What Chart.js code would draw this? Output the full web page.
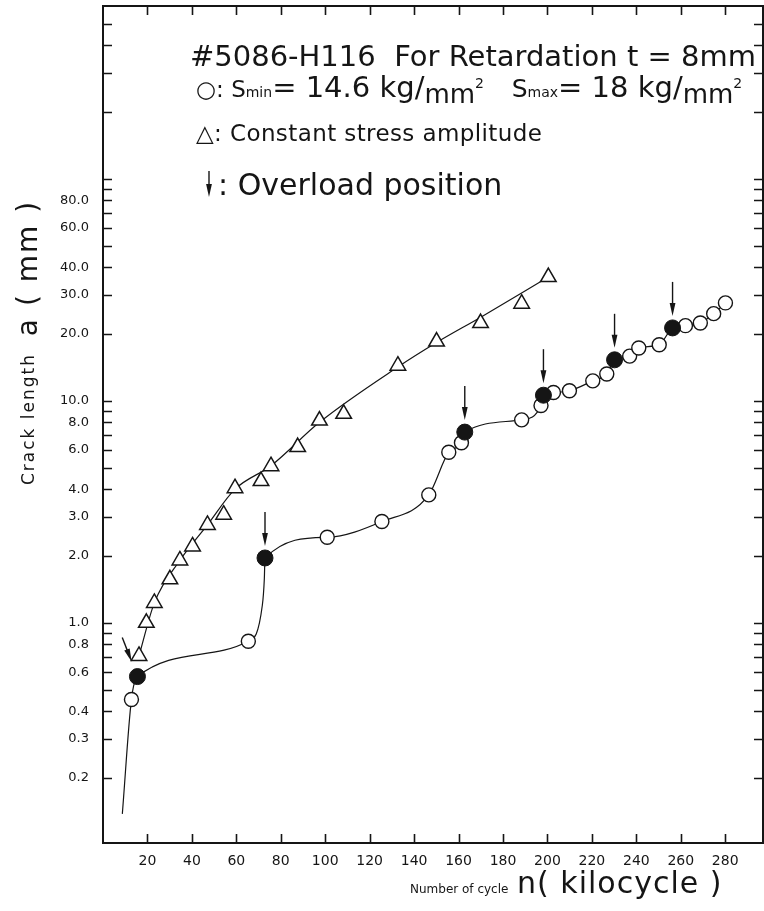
<!DOCTYPE html>
<html>
<head>
<meta charset="UTF-8">
<title>Crack growth retardation 5086-H116</title>
<script src="https://cdn.jsdelivr.net/npm/chart.js"></script>
<style>
  body { margin: 0; background: #fff; overflow: hidden; }
  #wrap { position: relative; width: 764px; height: 911px; }
  #chart { display: block; }
  .txt { position: absolute; font-family: "DejaVu Sans", sans-serif; color: #151515; white-space: nowrap; line-height: 1; }
  .rot { transform: translate(-50%, -50%) rotate(-90deg); }
  .dn { position: relative; top: 6px; }
  .up { position: relative; top: -9px; font-size: 14px; }
  .sub { font-size: 14px; }
</style>
</head>
<body>
<div id="wrap">
  <canvas id="chart"></canvas>

  <!-- legend block -->
  <div class="txt" style="left:190px; top:42px; font-size:29px;">#5086-H116&nbsp; For Retardation t = 8mm</div>
  <div class="txt" style="left:196px; top:73px; font-size:29px;"><span style="font-size:23px">○: S</span><span class="sub">min</span>= 14.6 kg/<span class="dn" style="font-size:26px">mm</span><span class="up">2</span>&nbsp;&nbsp; <span style="font-size:25px">S</span><span class="sub">max</span>= 18 kg/<span class="dn" style="font-size:26px">mm</span><span class="up">2</span></div>
  <div class="txt" style="left:196px; top:122px; font-size:23px; letter-spacing:0.4px;">△: Constant stress amplitude</div>
  <div class="txt" style="left:218px; top:170px; font-size:30px;">: Overload position</div>

  <!-- axis titles -->
  <div class="txt rot" style="left:28px; top:419px; font-size:17px; letter-spacing:2px;">Crack length</div>
  <div class="txt rot" style="left:28px; top:268px; font-size:28px; letter-spacing:2px;">a ( mm )</div>
  <div class="txt" style="left:410px; top:883px; font-size:12px;">Number of cycle</div>
  <div class="txt" style="left:517px; top:868px; font-size:30px; letter-spacing:1px;">n( kilocycle )</div>
</div>

<script>
    // tick positions / labels
    var xTickValues = [20, 40, 60, 80, 100, 120, 140, 160, 180, 200, 220, 240, 260, 280];
    var yTickMarks = [0.2, 0.3, 0.4, 0.5, 0.6, 0.7, 0.8, 0.9, 1, 2, 3, 4, 5, 6, 7, 8, 9,
                      10, 20, 30, 40, 50, 60, 70, 80, 90, 100, 200, 300, 400, 500];
    var yTickLabels = [0.2, 0.3, 0.4, 0.6, 0.8, 1, 2, 3, 4, 6, 8, 10, 20, 30, 40, 60, 80];

    // constant stress amplitude (triangles)
    var constCycles = [16.2, 19.5, 23.1, 30.1, 34.6, 40.3, 47.0, 54.3, 59.4, 71.1, 75.6, 87.6, 97.4, 108.3, 132.7, 150.1, 169.9, 188.4, 200.4];
    var constLength = [0.71, 1.0, 1.23, 1.57, 1.91, 2.21, 2.76, 3.07, 4.04, 4.35, 5.08, 6.19, 8.15, 8.74, 14.4, 18.5, 22.4, 27.4, 36.1];
    // the faired curve drawn through the triangles
    var constFitCycles = [16.2, 23.1, 34.6, 47.0, 59.4, 75.6, 97.4, 132.7, 150.1, 170.0, 200.4];
    var constFitLength = [0.71, 1.23, 1.91, 2.76, 4.0, 5.1, 8.0, 14.2, 18.3, 23.8, 36.1];

    // retardation test, open circles
    var retCycles = [12.8, 65.4, 100.9, 125.5, 146.6, 155.6, 161.3, 188.4, 197.1, 202.7, 209.9, 220.4, 226.7, 237.0, 241.1, 250.3, 262.1, 268.8, 274.8, 280.1];
    var retLength = [0.452, 0.827, 2.43, 2.86, 3.77, 5.87, 6.47, 8.21, 9.53, 10.9, 11.1, 12.3, 13.2, 15.9, 17.3, 17.9, 21.8, 22.4, 24.7, 27.6];

    // overload positions, filled circles
    var overloadCycles = [15.5, 72.9, 162.8, 198.2, 230.2, 256.3];
    var overloadLength = [0.573, 1.96, 7.23, 10.6, 15.3, 21.3];

    // extra points of the hand-drawn curve that carry no marker
    var curveOnlyCycles = [8.7, 71.7, 72.6];
    var curveOnlyLength = [0.138, 1.20, 1.58];

    function pts(xs, ys) {
        return xs.map(function (x, i) { return { x: x, y: ys[i] }; });
    }

    var retCurve = pts(curveOnlyCycles, curveOnlyLength)
        .concat(pts(retCycles, retLength))
        .concat(pts(overloadCycles, overloadLength))
        .sort(function (a, b) { return a.x - b.x; });

    var INK = '#151515';

    function drawArrow(ctx, x1, y1, x2, y2) {
        var ang = Math.atan2(y2 - y1, x2 - x1);
        var headLen = 13, headW = 2.9;
        ctx.beginPath();
        ctx.moveTo(x1, y1);
        ctx.lineTo(x2 - Math.cos(ang) * headLen * 0.6, y2 - Math.sin(ang) * headLen * 0.6);
        ctx.stroke();
        ctx.save();
        ctx.translate(x2, y2);
        ctx.rotate(ang);
        ctx.beginPath();
        ctx.moveTo(0, 0);
        ctx.lineTo(-headLen, -headW);
        ctx.lineTo(-headLen, headW);
        ctx.closePath();
        ctx.fill();
        ctx.restore();
    }

    function noPad(s) {
        s.paddingTop = 0; s.paddingBottom = 0; s.paddingLeft = 0; s.paddingRight = 0;
    }

    // frame with inward ticks on all four sides + overload arrows
    var framePlugin = {
        id: 'frame',
        afterDatasetsDraw: function (chart) {
            var ctx = chart.ctx;
            var meta = chart.getDatasetMeta(0); // overload points
            var tilt = [0.37, 0, 0, 0, 0, 0];
            ctx.save();
            ctx.strokeStyle = INK;
            ctx.fillStyle = INK;
            ctx.lineWidth = 1.4;
            meta.data.forEach(function (el, i) {
                var t = tilt[i] || 0;
                var tip = t ? 16 : 12, top = t ? 42 : 46;
                drawArrow(ctx,
                    el.x - Math.sin(t) * top, el.y - Math.cos(t) * top,
                    el.x - Math.sin(t) * tip, el.y - Math.cos(t) * tip);
            });
            // legend arrow
            drawArrow(ctx, 209, 171, 209, 197);
            ctx.restore();
        },
        afterDraw: function (chart) {
            var ctx = chart.ctx, a = chart.chartArea;
            var xs = chart.scales.x, ys = chart.scales.y;
            var len = 9;
            ctx.save();
            ctx.strokeStyle = INK;
            ctx.lineWidth = 1.6;
            ctx.beginPath();
            xTickValues.forEach(function (v) {
                var px = Math.round(xs.getPixelForValue(v)) + 0.5;
                ctx.moveTo(px, a.bottom); ctx.lineTo(px, a.bottom - len);
                ctx.moveTo(px, a.top); ctx.lineTo(px, a.top + len);
            });
            yTickMarks.forEach(function (v) {
                var py = Math.round(ys.getPixelForValue(v)) + 0.5;
                ctx.moveTo(a.left, py); ctx.lineTo(a.left + len, py);
                ctx.moveTo(a.right, py); ctx.lineTo(a.right - len, py);
            });
            ctx.stroke();
            ctx.lineWidth = 2;
            ctx.strokeRect(a.left, a.top, a.right - a.left, a.bottom - a.top);
            ctx.restore();
        }
    };

    var ctx = document.getElementById('chart').getContext('2d');
    var chart = new Chart(ctx, {
        type: 'scatter',
        data: {
            datasets: [
                {
                    label: 'Overload position',
                    data: pts(overloadCycles, overloadLength),
                    pointRadius: 8,
                    pointBackgroundColor: INK,
                    pointBorderColor: INK,
                    pointBorderWidth: 1,
                    showLine: false
                },
                {
                    label: 'Smin = 14.6, Smax = 18 kg/mm2',
                    data: pts(retCycles, retLength),
                    pointRadius: 7,
                    pointBackgroundColor: '#fff',
                    pointBorderColor: INK,
                    pointBorderWidth: 1.4,
                    showLine: false
                },
                {
                    label: 'Constant stress amplitude',
                    data: pts(constCycles, constLength),
                    pointStyle: 'triangle',
                    pointRadius: 9,
                    pointBackgroundColor: '#fff',
                    pointBorderColor: INK,
                    pointBorderWidth: 1.5,
                    showLine: false
                },
                {
                    label: 'retardation curve',
                    data: retCurve,
                    pointRadius: 0,
                    showLine: true,
                    borderColor: INK,
                    borderWidth: 1.2,
                    cubicInterpolationMode: 'monotone'
                },
                {
                    label: 'constant amplitude curve',
                    data: pts(constFitCycles, constFitLength),
                    pointRadius: 0,
                    showLine: true,
                    borderColor: INK,
                    borderWidth: 1.2,
                    cubicInterpolationMode: 'monotone'
                }
            ]
        },
        options: {
            responsive: true,
            maintainAspectRatio: false,
            animation: false,
            layout: { autoPadding: false, padding: { left: 0, right: 1, top: 6, bottom: 0 } },
            plugins: {
                legend: { display: false },
                tooltip: { enabled: false }
            },
            scales: {
                x: {
                    type: 'linear',
                    min: 0,
                    max: 297,
                    grid: { display: false },
                    border: { display: false },
                    ticks: {
                        color: INK,
                        font: { family: 'DejaVu Sans', size: 14 },
                        padding: 2,
                        autoSkip: false,
                        maxRotation: 0
                    },
                    afterBuildTicks: function (s) {
                        s.ticks = xTickValues.map(function (v) { return { value: v }; });
                    },
                    afterFit: function (s) { s.height = 68; noPad(s); }
                },
                y: {
                    type: 'logarithmic',
                    min: 0.102,
                    max: 600,
                    grid: { display: false },
                    border: { display: false },
                    ticks: {
                        color: INK,
                        font: { family: 'DejaVu Sans', size: 13 },
                        padding: 6,
                        autoSkip: false,
                        callback: function (v) {
                            return yTickLabels.indexOf(v) >= 0 ? v.toFixed(1) : '';
                        }
                    },
                    afterBuildTicks: function (s) {
                        s.ticks = yTickMarks.map(function (v) { return { value: v }; });
                    },
                    afterFit: function (s) { s.width = 103; noPad(s); }
                }
            }
        },
        plugins: [framePlugin]
    });
</script>
</body>
</html>
